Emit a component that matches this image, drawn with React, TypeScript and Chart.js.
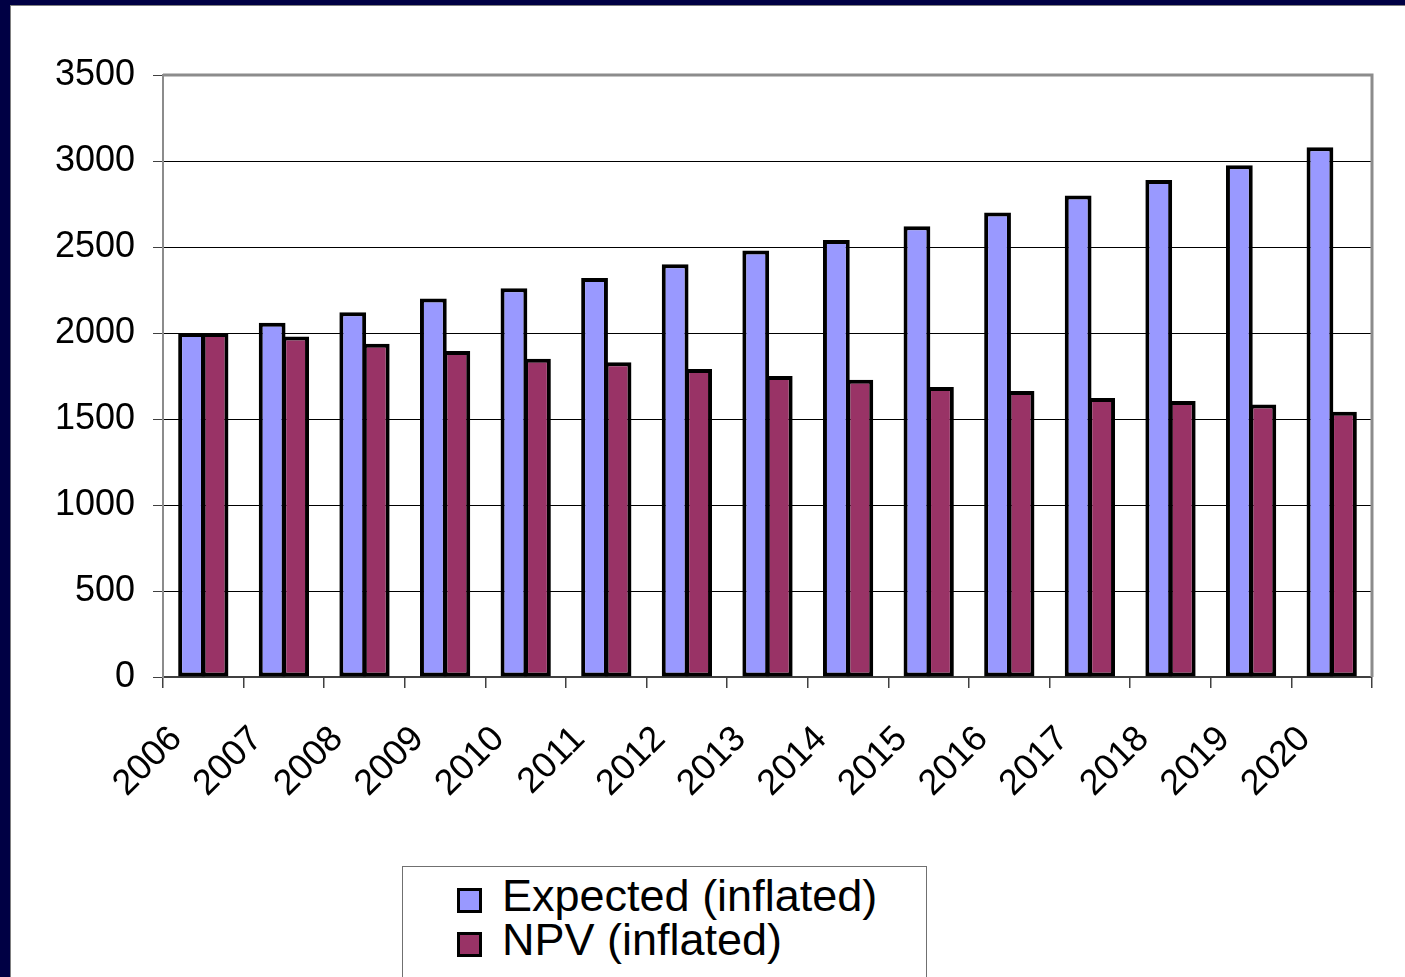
import React, { useEffect, useRef } from "react";
import { Chart, registerables } from "chart.js";

Chart.register(...registerables);

const years = ["2006", "2007", "2008", "2009", "2010", "2011", "2012", "2013", "2014", "2015", "2016", "2017", "2018", "2019", "2020"];
const expectedValues = [2000, 2060, 2120, 2200, 2260, 2320, 2400, 2480, 2540, 2620, 2700, 2800, 2890, 2975, 3080];
const npvValues = [2000, 1980, 1937, 1895, 1850, 1830, 1790, 1750, 1728, 1686, 1663, 1622, 1604, 1585, 1542];
const seriesNames = ["Expected (inflated)", "NPV (inflated)"];
const seriesColors = ["#9999FF", "#993366"];
const yTickValues = [0, 500, 1000, 1500, 2000, 2500, 3000, 3500];

const FONT = "'Liberation Sans', Arial, sans-serif";

const plotBorder = {
  id: "plotBorder",
  afterDraw(chart: any) {
    const { ctx, chartArea } = chart;
    ctx.save();
    ctx.strokeStyle = "#8c8c8c";
    ctx.lineWidth = 3;
    ctx.beginPath();
    ctx.moveTo(chartArea.left, chartArea.top);
    ctx.lineTo(chartArea.right, chartArea.top);
    ctx.lineTo(chartArea.right, chartArea.bottom);
    ctx.stroke();
    ctx.restore();
  },
};

export default function App() {
  const ref = useRef<HTMLCanvasElement>(null);

  useEffect(() => {
    if (!ref.current) return;
    const common = {
      borderColor: "#000000",
      borderWidth: 4,
      borderSkipped: false as const,
      categoryPercentage: 0.583,
      barPercentage: 1.14,
    };
    const chart = new Chart(ref.current, {
      type: "bar",
      data: {
        labels: years,
        datasets: [
          { label: seriesNames[0], data: expectedValues, backgroundColor: seriesColors[0], ...common },
          { label: seriesNames[1], data: npvValues, backgroundColor: seriesColors[1], ...common },
        ],
      },
      options: {
        responsive: false,
        animation: false,
        layout: { padding: { top: 68, right: 33, left: 0, bottom: 0 } },
        plugins: {
          legend: { display: false },
          tooltip: { enabled: false },
        },
        scales: {
          x: {
            afterFit: (s: any) => {
              s.height = 300;
            },
            grid: {
              offset: true,
              drawOnChartArea: false,
              drawTicks: true,
              tickLength: 11,
              color: "#404040",
              lineWidth: 1.5,
            },
            border: { color: "#404040", width: 2 },
            ticks: {
              autoSkip: false,
              minRotation: 45,
              maxRotation: 45,
              padding: 30,
              labelOffset: -27,
              color: "#000000",
              font: { family: FONT, size: 36 },
            },
          },
          y: {
            min: 0,
            max: 3500,
            afterFit: (s: any) => {
              s.width = 152;
            },
            afterBuildTicks: (s: any) => {
              s.ticks = yTickValues.map((v) => ({ value: v }));
            },
            grid: {
              color: "#000000",
              lineWidth: 1,
              drawTicks: true,
              tickLength: 10,
              tickColor: "#404040",
            },
            border: { color: "#8c8c8c", width: 2 },
            ticks: {
              padding: 18,
              color: "#000000",
              font: { family: FONT, size: 36 },
              callback: (v: any) => String(v),
            },
          },
        },
      },
      plugins: [plotBorder],
    });
    return () => chart.destroy();
  }, []);

  return (
    <div
      style={{
        position: "absolute",
        left: 0,
        top: 0,
        width: 1405,
        height: 977,
        overflow: "hidden",
        background: "#000044",
        fontFamily: FONT,
      }}
    >
      <div
        style={{
          position: "absolute",
          left: 10,
          top: 5,
          width: 1400,
          height: 980,
          background: "#ffffff",
          borderLeft: "1px solid #808080",
          borderTop: "1px solid #808080",
        }}
      />
      <canvas
        ref={ref}
        width={1394}
        height={970}
        style={{ position: "absolute", left: 11, top: 7, width: 1394, height: 970 }}
      />
      <div
        style={{
          position: "absolute",
          left: 402,
          top: 866,
          width: 523,
          height: 200,
          border: "1px solid #707070",
          background: "#ffffff",
        }}
      />
      {seriesNames.map((name, i) => (
        <React.Fragment key={name}>
          <div
            style={{
              position: "absolute",
              left: 457,
              top: 888 + i * 44,
              width: 19,
              height: 19,
              background: seriesColors[i],
              border: "3.5px solid #000000",
            }}
          />
          <div
            style={{
              position: "absolute",
              left: 502,
              top: 874 + i * 44,
              height: 44,
              lineHeight: "44px",
              fontSize: 45,
              color: "#000000",
              whiteSpace: "nowrap",
            }}
          >
            {name}
          </div>
        </React.Fragment>
      ))}
    </div>
  );
}
